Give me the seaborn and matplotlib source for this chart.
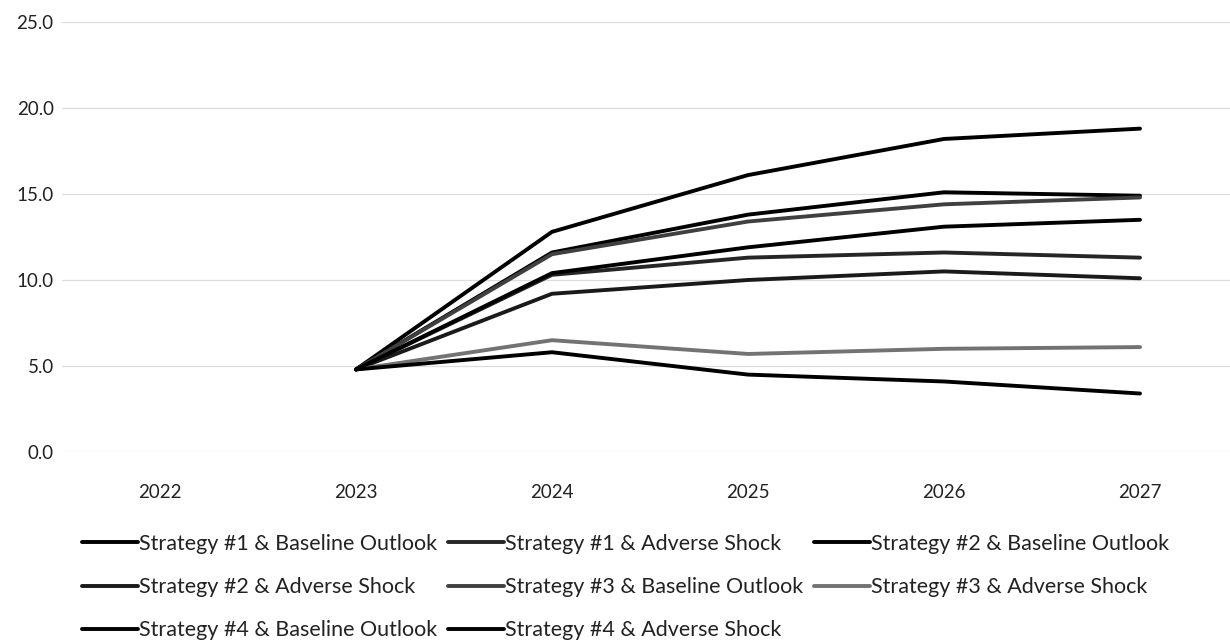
import numpy as np
import pandas as pd
import matplotlib
matplotlib.use("Agg")
import matplotlib.pyplot as plt
from matplotlib.ticker import FormatStrFormatter
import seaborn as sns

years = [2022, 2023, 2024, 2025, 2026, 2027]

s1_baseline = [np.nan, 4.8, 12.8, 16.1, 18.2, 18.8]
s2_baseline = [np.nan, 4.8, 11.6, 13.8, 15.1, 14.9]
s3_baseline = [np.nan, 4.8, 11.5, 13.4, 14.4, 14.8]
s4_baseline = [np.nan, 4.8, 10.4, 11.9, 13.1, 13.5]
s1_adverse = [np.nan, 4.8, 10.3, 11.3, 11.6, 11.3]
s2_adverse = [np.nan, 4.8, 9.2, 10.0, 10.5, 10.1]
s3_adverse = [np.nan, 4.8, 6.5, 5.7, 6.0, 6.1]
s4_adverse = [np.nan, 4.8, 5.8, 4.5, 4.1, 3.4]

series = {
    "Strategy #1 & Baseline Outlook": s1_baseline,
    "Strategy #1 & Adverse Shock": s1_adverse,
    "Strategy #2 & Baseline Outlook": s2_baseline,
    "Strategy #2 & Adverse Shock": s2_adverse,
    "Strategy #3 & Baseline Outlook": s3_baseline,
    "Strategy #3 & Adverse Shock": s3_adverse,
    "Strategy #4 & Baseline Outlook": s4_baseline,
    "Strategy #4 & Adverse Shock": s4_adverse,
}
colors = {
    "Strategy #1 & Baseline Outlook": "#000000",
    "Strategy #1 & Adverse Shock": "#262626",
    "Strategy #2 & Baseline Outlook": "#000000",
    "Strategy #2 & Adverse Shock": "#1a1a1a",
    "Strategy #3 & Baseline Outlook": "#404040",
    "Strategy #3 & Adverse Shock": "#737373",
    "Strategy #4 & Baseline Outlook": "#000000",
    "Strategy #4 & Adverse Shock": "#000000",
}
y_ticks = [0, 5, 10, 15, 20, 25]

rows = []
for name, vals in series.items():
    for yr, v in zip(years, vals):
        rows.append({"year": yr, "value": v, "series": name})
df = pd.DataFrame(rows).dropna()

sns.set_theme(style="white")
plt.rcParams["font.family"] = ["Lato", "DejaVu Sans"]

fig = plt.figure(figsize=(12.3, 6.44), dpi=100)
ax = fig.add_axes([62 / 1230, (644 - 452) / 644, 1168 / 1230, 430 / 644])

names = list(series.keys())
sns.lineplot(data=df, x="year", y="value", hue="series", hue_order=names,
             palette=colors, linewidth=2.8, legend=False, ax=ax, sort=True)

ax.set_xlim(2021.5, 2021.5 + 1168 / 196)
ax.set_ylim(0, 25)
ax.set_xticks(years)
ax.set_xticklabels([str(y) for y in years])
ax.set_yticks(y_ticks)
ax.yaxis.set_major_formatter(FormatStrFormatter("%.1f"))
ax.set_xlabel("")
ax.set_ylabel("")
ax.tick_params(axis="both", length=0, labelsize=13.5, colors="#222222")
ax.tick_params(axis="x", pad=23)
ax.tick_params(axis="y", pad=6)
ax.grid(axis="y", color="#dcdcdc", linewidth=0.9)
ax.set_axisbelow(True)
for sp in ax.spines.values():
    sp.set_visible(False)

# legend entries laid out row by row, three per row
lines = {name: ln for name, ln in zip(names, ax.get_lines())}
order = [
    "Strategy #1 & Baseline Outlook", "Strategy #2 & Adverse Shock", "Strategy #4 & Baseline Outlook",
    "Strategy #1 & Adverse Shock", "Strategy #3 & Baseline Outlook", "Strategy #4 & Adverse Shock",
    "Strategy #2 & Baseline Outlook", "Strategy #3 & Adverse Shock",
]
leg = fig.legend([lines[n] for n in order], order, ncol=3, frameon=False,
                 loc="upper left", bbox_to_anchor=(82 / 1230, 1 - 534 / 644),
                 fontsize=15.5, handlelength=2.6, handletextpad=0.05,
                 columnspacing=0.5, labelspacing=1.08, borderaxespad=0,
                 borderpad=0)
for t in leg.get_texts():
    t.set_color("#222222")

fig.savefig("out.png", dpi=100)
